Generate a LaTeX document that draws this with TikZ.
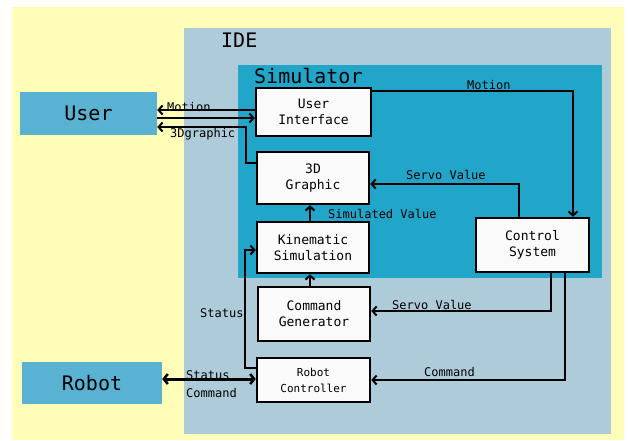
\documentclass[tikz,border=0pt]{standalone}
\usepackage{fontspec}
\setmainfont{DejaVu Sans Mono}
\usetikzlibrary{arrows.meta,calc}
\definecolor{bgyellow}{HTML}{FFFDB8}
\definecolor{idecol}{HTML}{AECBD9}
\definecolor{simcol}{HTML}{21A5C9}
\definecolor{extcol}{HTML}{5AB2D3}
\definecolor{boxfill}{HTML}{FAFAFA}
\tikzset{
  blk/.style={draw=black, line width=2.5pt, fill=boxfill, inner sep=0pt,
    align=center, font=\fontsize{13}{16}\selectfont},
  ext/.style={fill=extcol, inner sep=0pt, font=\fontsize{20}{24}\selectfont},
  lbl/.style={inner sep=0pt, anchor=west, font=\fontsize{12}{14}\selectfont},
  big/.style={inner sep=0pt, anchor=west, font=\fontsize{20}{24}\selectfont},
  arr/.style={line width=2pt, -{Straight Barb[length=4pt,width=9pt,line width=2pt]}},
  dbl/.style={line width=3pt, {Straight Barb[length=4pt,width=10pt,line width=2.5pt]}-{Straight Barb[length=4pt,width=10pt,line width=2.5pt]}}
}
\begin{document}
\begin{tikzpicture}[x=1pt,y=-1pt]
\useasboundingbox (0,0) rectangle (628,440);
\fill[white] (0,0) rectangle (628,440);
\fill[bgyellow] (12,7) rectangle (624,440);
\fill[idecol] (184,28) rectangle (611,434);
\fill[simcol] (238,65) rectangle (602,278);
\node[big] (ide) at (221,40) {IDE};
\node[big] (simt) at (254,76) {Simulator};

\node[ext, minimum width=137pt, minimum height=43pt] (user) at (88.5,113.5) {User};
\node[ext, minimum width=140pt, minimum height=42pt] (robot) at (92,383) {Robot};

\node[blk, minimum width=115pt, minimum height=48pt] (ui) at (313.5,112) {User\\Interface};
\node[blk, minimum width=112pt, minimum height=52pt] (g3) at (313,178) {3D\\Graphic};
\node[blk, minimum width=112pt, minimum height=51pt] (kin) at (313,247.5) {Kinematic\\Simulation};
\node[blk, minimum width=112pt, minimum height=54pt] (cg) at (314,314) {Command\\Generator};
\node[blk, minimum width=113pt, minimum height=44pt, font=\fontsize{11}{16}\selectfont] (rc) at (313.5,380) {Robot\\Controller};
\node[blk, minimum width=113pt, minimum height=54pt] (cs) at (532.5,245) {Control\\System};

% User <-> UI
\draw[arr] ([yshift=2pt]ui.west) -- ([yshift=2pt]ui.west -| user.east);
\draw[arr] ([yshift=-6pt]ui.west -| user.east) -- ([yshift=-6pt]ui.west);
\draw[arr] ([yshift=15pt]g3.west) -- ++(-10,0) |- ([yshift=-15pt]ui.west -| user.east);
% UI -> CS
\draw[arr] ([yshift=21pt]ui.east) -| ([xshift=40.5pt]cs.north);
% CS -> 3D graphic
\draw[arr] ([xshift=-13.5pt]cs.north) |- ([yshift=-6pt]g3.east);
% Kin -> 3D
\draw[arr] ([xshift=-3pt]kin.north) -- ([xshift=-3pt]g3.south);
% CG -> Kin
\draw[arr] ([xshift=-4pt]cg.north) -- ([xshift=-4pt,yshift=0pt]cg.north |- kin.south);
% CS -> CG
\draw[arr] ([xshift=18.5pt]cs.south) |- ([yshift=3pt]cg.east);
% CS -> RC
\draw[arr] ([xshift=32.5pt]cs.south) |- (rc.east);
% RC -> Kin (status)
\draw[arr] ([yshift=12pt]rc.west) -- ++(-11,0) |- ([yshift=-2.5pt]kin.west);
% Robot <-> RC
\draw[dbl] ([yshift=1pt]rc.west -| robot.east) -- ([yshift=1pt]rc.west);

% labels
\node[lbl] (l1) at (167,107) {Motion};
\node[lbl] (l2) at (170,134) {3Dgraphic};
\node[lbl] (l3) at (467,85) {Motion};
\node[lbl] (l4) at (406,175) {Servo Value};
\node[lbl] (l5) at (328,214) {Simulated Value};
\node[lbl] (l6) at (392,305) {Servo Value};
\node[lbl] (l7) at (424,372) {Command};
\node[lbl] (l8) at (200,313) {Status};
\node[lbl] (l9) at (186,375) {Status};
\node[lbl] (l10) at (186,393) {Command};
\end{tikzpicture}
\end{document}
